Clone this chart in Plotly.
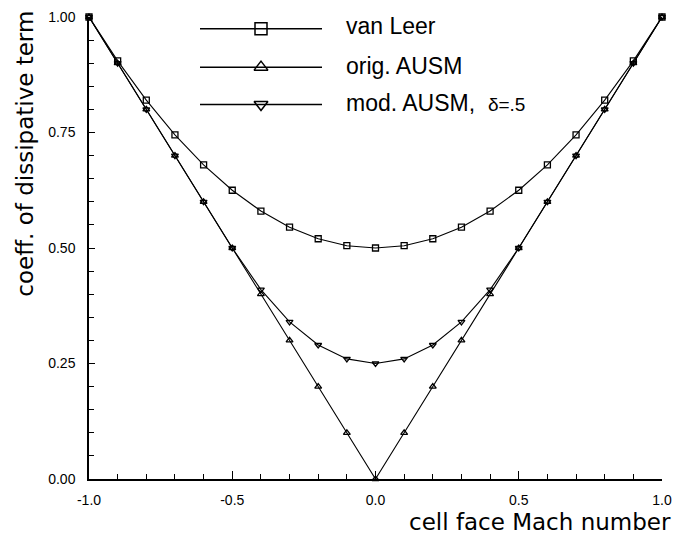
import plotly.graph_objects as go

mach = [-1.0, -0.9, -0.8, -0.7, -0.6, -0.5, -0.4, -0.3, -0.2, -0.1, 0.0,
        0.1, 0.2, 0.3, 0.4, 0.5, 0.6, 0.7, 0.8, 0.9, 1.0]
van_leer = [1.0, 0.905, 0.82, 0.745, 0.68, 0.625, 0.58, 0.545, 0.52, 0.505, 0.50,
            0.505, 0.52, 0.545, 0.58, 0.625, 0.68, 0.745, 0.82, 0.905, 1.0]
orig_ausm = [1.0, 0.9, 0.8, 0.7, 0.6, 0.5, 0.4, 0.3, 0.2, 0.1, 0.0,
             0.1, 0.2, 0.3, 0.4, 0.5, 0.6, 0.7, 0.8, 0.9, 1.0]
mod_ausm = [1.0, 0.9, 0.8, 0.7, 0.6, 0.5, 0.41, 0.34, 0.29, 0.26, 0.25,
            0.26, 0.29, 0.34, 0.41, 0.5, 0.6, 0.7, 0.8, 0.9, 1.0]
series_names = ["van Leer", "orig. AUSM",
                "mod. AUSM,  <span style='font-size:19px'>δ=.5</span>"]
symbols = ["square-open", "triangle-up-open", "triangle-down-open"]
x_ticks = [-1.0, -0.5, 0.0, 0.5, 1.0]
y_ticks = [0.0, 0.25, 0.5, 0.75, 1.0]

W, H = 697, 543
L, R, T, B = 89, 662, 9, 479


def px(x):
    return (x - L) / (R - L)


def py(y):
    return (B - y) / (B - T)


fig = go.Figure()
for ys, sym in zip([van_leer, orig_ausm, mod_ausm], symbols):
    fig.add_trace(go.Scatter(
        x=mach, y=ys, mode="lines+markers", cliponaxis=False,
        line=dict(color="black", width=1.1),
        marker=dict(symbol=sym, size=6, color="black", line=dict(width=1.3, color="black")),
        showlegend=False))

# custom legend in pixel coordinates on overlay axes
leg_y = [21, 60, 98]
leg_text_y = [18, 59, 96]
for name, sym, yy, ty in zip(series_names, symbols, leg_y, leg_text_y):
    fig.add_trace(go.Scatter(x=[200, 322], y=[yy, yy], mode="lines", xaxis="x2", yaxis="y2",
                             line=dict(color="black", width=1.5), showlegend=False, cliponaxis=False))
    fig.add_trace(go.Scatter(x=[261], y=[yy], mode="markers", xaxis="x2", yaxis="y2",
                             marker=dict(symbol=sym, size=12, color="black", line=dict(width=1.5, color="black")),
                             showlegend=False, cliponaxis=False))
    fig.add_annotation(x=px(344), y=py(ty), xref="paper", yref="paper", text=name, showarrow=False,
                       xanchor="left", yanchor="middle",
                       font=dict(family="Liberation Sans, Arial", size=23, color="black"))

fig.update_layout(
    width=W, height=H,
    margin=dict(l=L, r=W - R, t=T, b=H - B),
    paper_bgcolor="white", plot_bgcolor="white",
    showlegend=False,
    font=dict(family="Liberation Sans, Arial", color="black"),
    xaxis=dict(range=[-1, 1], tickvals=x_ticks, ticktext=["-1.0", "-0.5", "0.0", "0.5", "1.0"],
               ticks="inside", ticklen=8, tickwidth=1.2, tickcolor="black", ticklabelstandoff=7,
               showline=True, linecolor="black", linewidth=1.5, showgrid=False, zeroline=False,
               tickfont=dict(size=14),
               minor=dict(dtick=0.1, ticks="inside", ticklen=5, tickcolor="black", tickwidth=1, showgrid=False)),
    yaxis=dict(range=[0, 1], tickvals=y_ticks, ticktext=["0.00", "0.25", "0.50", "0.75", "1.00"],
               ticks="inside", ticklen=6, tickwidth=1.2, tickcolor="black", ticklabelstandoff=9,
               showline=True, linecolor="black", linewidth=1.5, showgrid=False, zeroline=False,
               tickfont=dict(size=14),
               minor=dict(dtick=0.05, ticks="inside", ticklen=5, tickcolor="black", tickwidth=1, showgrid=False)),
    xaxis2=dict(range=[L, R], overlaying="x", visible=False, fixedrange=True),
    yaxis2=dict(range=[B, T], overlaying="y", visible=False, fixedrange=True),
)

fig.add_annotation(x=px(673), y=py(523), xref="paper", yref="paper", text="cell face Mach number",
                   showarrow=False, xanchor="right", yanchor="middle",
                   font=dict(family="DejaVu Sans", size=23, color="black"))
fig.add_annotation(x=px(25), y=py(148), xref="paper", yref="paper", text="coeff. of dissipative term",
                   showarrow=False, textangle=-90, xanchor="center", yanchor="middle",
                   font=dict(family="DejaVu Sans", size=23, color="black"))

fig.write_html("out.html")
